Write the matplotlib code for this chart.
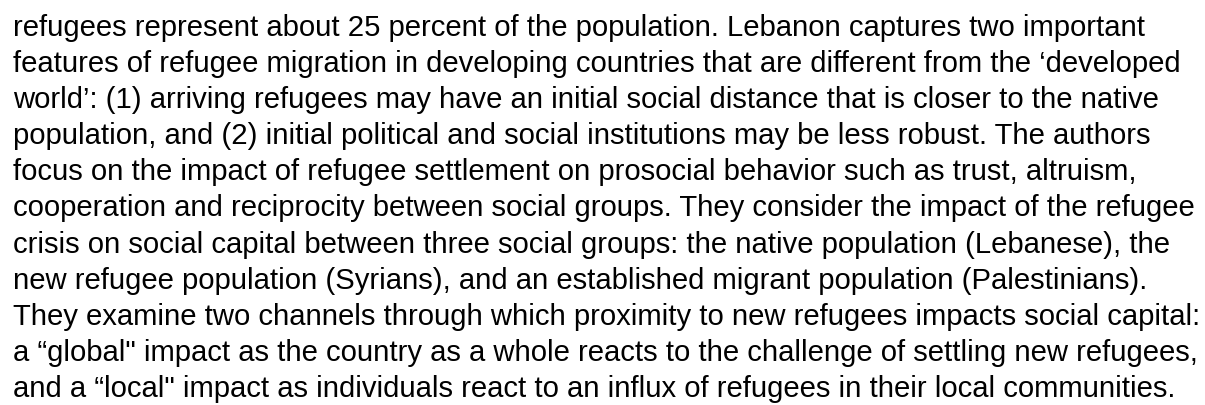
import matplotlib
matplotlib.use('Agg')
import matplotlib.pyplot as plt

# paragraph text, one entry per printed line
lines = [
    'refugees represent about 25 percent of the population. Lebanon captures two important',
    'features of refugee migration in developing countries that are different from the \u2018developed',
    'world\u2019: (1) arriving refugees may have an initial social distance that is closer to the native',
    'population, and (2) initial political and social institutions may be less robust. The authors',
    'focus on the impact of refugee settlement on prosocial behavior such as trust, altruism,',
    'cooperation and reciprocity between social groups. They consider the impact of the refugee',
    'crisis on social capital between three social groups: the native population (Lebanese), the',
    'new refugee population (Syrians), and an established migrant population (Palestinians).',
    'They examine two channels through which proximity to new refugees impacts social capital:',
    'a \u201cglobal" impact as the country as a whole reacts to the challenge of settling new refugees,',
    'and a \u201clocal" impact as individuals react to an influx of refugees in their local communities.',
]

W, H = 1205, 405
left_px = 13
first_baseline = 36
line_step = 36.1

fig = plt.figure(figsize=(W / 100, H / 100), dpi=100)
fig.patch.set_facecolor('white')

for i, line in enumerate(lines):
    y = first_baseline + i * line_step
    fig.text(left_px / W, 1 - y / H, line, family='Liberation Sans',
             fontsize=21.05, color='black', va='baseline', ha='left')

fig.savefig('out.png', dpi=100, facecolor='white')
